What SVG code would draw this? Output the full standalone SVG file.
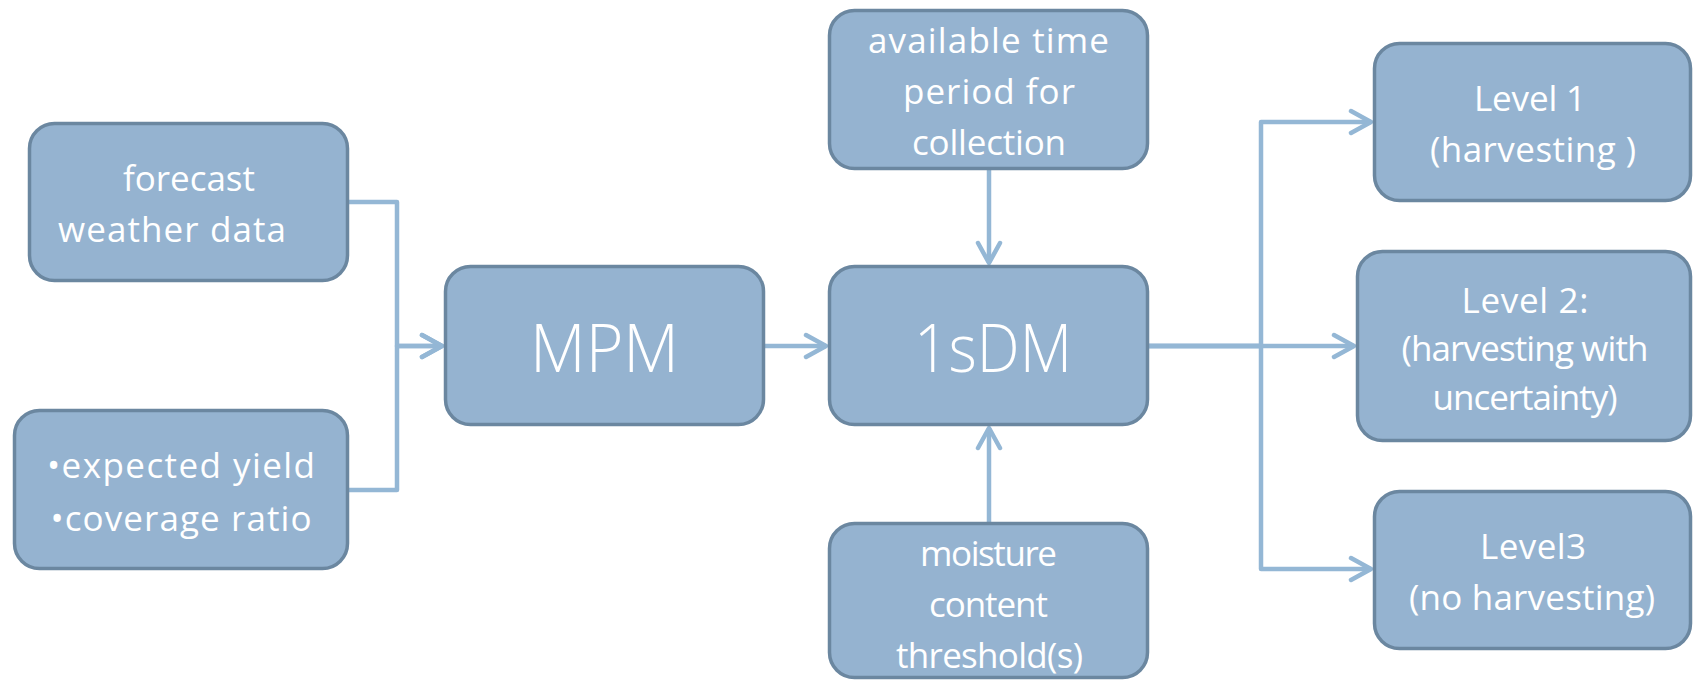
<svg xmlns="http://www.w3.org/2000/svg" width="1694" height="680" viewBox="0 0 1694 680">
  <style>
    .box { fill: #95B3D0; stroke: #6B87A0; stroke-width: 3.5; }
    .lbl { font-family: "Open Sans", "DejaVu Sans", sans-serif; font-size: 35px; fill: #FFFFFF; text-anchor: middle; }
    .big { font-family: "Open Sans", "DejaVu Sans", sans-serif; font-size: 66px; font-weight: 300; fill: #FFFFFF; text-anchor: middle; }
    .link { fill: none; stroke: #94B7D5; stroke-width: 4.5; stroke-linejoin: round; }
  </style>
  <defs>
    <marker id="chev" markerUnits="userSpaceOnUse" viewBox="-24 -14 28 28" refX="0" refY="0" markerWidth="28" markerHeight="28" orient="auto">
      <path d="M -20 -11 L 0 0 L -20 11" fill="none" stroke="#94B7D5" stroke-width="4.5" stroke-linecap="round" stroke-linejoin="round"/>
    </marker>
  </defs>
  <rect width="1694" height="680" fill="#FFFFFF"/>

  <!-- connectors -->
  <g id="connectors">
    <path class="link" d="M349 202 H397 V346 H442" marker-end="url(#chev)"/>
    <path class="link" d="M349 490 H397 V346 H442" marker-end="url(#chev)"/>
    <path class="link" d="M765 346 H826" marker-end="url(#chev)"/>
    <path class="link" d="M989 170 V263" marker-end="url(#chev)"/>
    <path class="link" d="M989 522 V428" marker-end="url(#chev)"/>
    <path class="link" d="M1149 346 H1261 V122 H1371" marker-end="url(#chev)"/>
    <path class="link" d="M1149 346 H1354" marker-end="url(#chev)"/>
    <path class="link" d="M1149 346 H1261 V569 H1371" marker-end="url(#chev)"/>
  </g>

  <g id="forecast">
    <rect class="box" x="29.5" y="123.5" width="318" height="157" rx="25"/>
    <text class="lbl" x="189" y="191" textLength="132" lengthAdjust="spacing">forecast</text>
    <text class="lbl" x="172" y="242" textLength="228" lengthAdjust="spacing">weather data</text>
  </g>

  <g id="yield">
    <rect class="box" x="14.5" y="410.5" width="333" height="158" rx="25"/>
    <text class="lbl" x="181" y="478" textLength="268" lengthAdjust="spacing">•expected yield</text>
    <text class="lbl" x="181" y="531" textLength="261" lengthAdjust="spacing">•coverage ratio</text>
  </g>

  <g id="mpm">
    <rect class="box" x="445.5" y="266.5" width="318" height="158" rx="25"/>
    <text class="big" x="604.5" y="372" textLength="149" lengthAdjust="spacingAndGlyphs">MPM</text>
  </g>

  <g id="sdm">
    <rect class="box" x="829.5" y="266.5" width="318" height="158" rx="25"/>
    <text class="big" x="993" y="372" textLength="158" lengthAdjust="spacingAndGlyphs">1sDM</text>
  </g>

  <g id="time-period">
    <rect class="box" x="829.5" y="10.5" width="318" height="158" rx="25"/>
    <text class="lbl" x="988.5" y="53" textLength="241" lengthAdjust="spacing">available time</text>
    <text class="lbl" x="989" y="104" textLength="172" lengthAdjust="spacing">period for</text>
    <text class="lbl" x="989" y="155" textLength="154" lengthAdjust="spacing">collection</text>
  </g>

  <g id="moisture">
    <rect class="box" x="829.5" y="523.5" width="318" height="154" rx="25"/>
    <text class="lbl" x="988.5" y="566" textLength="137" lengthAdjust="spacing">moisture</text>
    <text class="lbl" x="988.5" y="617" textLength="119" lengthAdjust="spacing">content</text>
    <text class="lbl" x="989.5" y="668" textLength="187" lengthAdjust="spacing">threshold(s)</text>
  </g>

  <g id="level1">
    <rect class="box" x="1374.5" y="43.5" width="316" height="157" rx="25"/>
    <text class="lbl" x="1530" y="111" textLength="112" lengthAdjust="spacing">Level 1</text>
    <text class="lbl" x="1533" y="162" textLength="206" lengthAdjust="spacing">(harvesting )</text>
  </g>

  <g id="level2">
    <rect class="box" x="1357.5" y="251.5" width="333" height="189" rx="25"/>
    <text class="lbl" x="1525" y="313" textLength="127" lengthAdjust="spacing">Level 2:</text>
    <text class="lbl" x="1525" y="361" textLength="247" lengthAdjust="spacing">(harvesting with</text>
    <text class="lbl" x="1525" y="410" textLength="185" lengthAdjust="spacing">uncertainty)</text>
  </g>

  <g id="level3">
    <rect class="box" x="1374.5" y="491.5" width="316" height="157" rx="25"/>
    <text class="lbl" x="1533" y="559" textLength="106" lengthAdjust="spacing">Level3</text>
    <text class="lbl" x="1532" y="610" textLength="246" lengthAdjust="spacing">(no harvesting)</text>
  </g>
</svg>
